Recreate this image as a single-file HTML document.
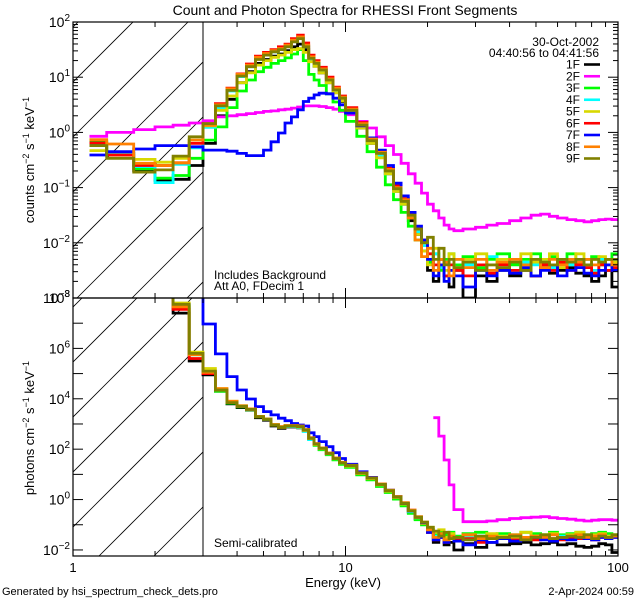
<!DOCTYPE html>
<html><head><meta charset="utf-8"><style>
html,body{margin:0;padding:0;background:#fff;width:640px;height:600px;overflow:hidden;}
svg{display:block;font-family:"Liberation Sans","DejaVu Sans",sans-serif;}
</style></head><body>
<svg id="chart" width="640" height="600" viewBox="0 0 640 600">
<rect width="640" height="600" fill="#fff"/>
<defs>
<clipPath id="clipTop"><rect x="73" y="22" width="545" height="276"/></clipPath>
<clipPath id="clipBot"><rect x="73" y="298" width="545" height="258"/></clipPath>
<clipPath id="hatchTop"><rect x="73" y="22" width="130" height="276"/></clipPath>
<clipPath id="hatchBot"><rect x="73" y="298" width="130" height="258"/></clipPath>
</defs>
<g id="hatch"></g>
<g id="series"></g>
<g id="axes"></g>
<g id="texts">
<text x="345" y="15" font-size="14" text-anchor="middle">Count and Photon Spectra for RHESSI Front Segments</text>
<text x="599" y="46" font-size="12" text-anchor="end">30-Oct-2002</text>
<text x="599" y="57" font-size="12" text-anchor="end">04:40:56 to 04:41:56</text>
<text x="214" y="279" font-size="12">Includes Background</text>
<text x="214" y="290" font-size="12">Att A0, FDecim 1</text>
<text x="214" y="547" font-size="12">Semi-calibrated</text>
<text x="343" y="587" font-size="13" text-anchor="middle">Energy (keV)</text>
<text x="2" y="595" font-size="11">Generated by hsi_spectrum_check_dets.pro</text>
<text x="634" y="595" font-size="11" text-anchor="end">2-Apr-2024 00:59</text>
<text transform="translate(34,160) rotate(-90)" font-size="13" text-anchor="middle">counts cm<tspan dy="-5" font-size="9">−2</tspan><tspan dy="5"> s</tspan><tspan dy="-5" font-size="9">−1</tspan><tspan dy="5"> keV</tspan><tspan dy="-5" font-size="9">−1</tspan></text>
<text transform="translate(34,428) rotate(-90)" font-size="13" text-anchor="middle">photons cm<tspan dy="-5" font-size="9">−2</tspan><tspan dy="5"> s</tspan><tspan dy="-5" font-size="9">−1</tspan><tspan dy="5"> keV</tspan><tspan dy="-5" font-size="9">−1</tspan></text>
</g>
<g id="legend"></g>
</svg>
<script>
const edges=[1.15,1.33,1.67,2,2.33,2.67,3,3.33,3.67,4,4.33,4.67,5,5.33,5.67,6,6.33,6.67,7,7.33,7.67,8,8.5,9,9.5,10,11,12,13,14,15,16,17,18,19,20,21,22,23,24,25,27,30,33,36,40,44,48,52,56,60,65,70,75,80,85,90,95,100];
const detNames=["1F","2F","3F","4F","5F","6F","7F","8F","9F"];
const detColors=["#000000","#ff00ff","#00ff00","#00ffff","#d8d800","#ff0000","#0000ff","#ff8000","#808000"];
const xTickLabels=["1","10","100"];
const topYTickExps=[2,1,0,-1,-2,-3];
const botYTickExps=[8,6,4,2,0,-2];
// log10 counts (top panel)
const cnt1F=[-0.22,-0.38,-0.69,-0.87,-0.85,-0.6,-0.2,0.3,0.6,0.9,1.1,1.25,1.32,1.38,1.42,1.48,1.55,1.6,1.5,1.3,1.2,1.08,0.9,0.72,0.56,0.35,0.08,-0.2,-0.43,-0.75,-1.07,-1.3,-1.6,-1.85,-2.15,-2.5,-2.7,-2.4,-2.6,-2.8,-2.5,-3.0,-2.6,-2.7,-2.5,-2.6,-2.5,-2.6,-2.45,-2.55,-2.5,-2.45,-2.55,-2.6,-2.7,-2.6,-2.5,-2.8];
const cnt2F=[-0.07,0.0,0.05,0.1,0.13,0.17,0.21,0.28,0.3,0.32,0.34,0.36,0.38,0.39,0.41,0.42,0.44,0.46,0.48,0.48,0.48,0.47,0.45,0.42,0.38,0.32,0.2,0.08,-0.08,-0.24,-0.4,-0.56,-0.75,-0.92,-1.1,-1.3,-1.42,-1.55,-1.68,-1.75,-1.78,-1.75,-1.72,-1.68,-1.65,-1.6,-1.55,-1.5,-1.48,-1.52,-1.55,-1.58,-1.6,-1.62,-1.6,-1.58,-1.57,-1.58];
const cnt3F=[-0.16,-0.4,-0.66,-0.83,-0.78,-0.47,-0.14,0.1,0.45,0.75,0.95,1.1,1.18,1.25,1.3,1.35,1.42,1.5,1.3,1.05,0.95,0.85,0.7,0.55,0.4,0.2,-0.07,-0.35,-0.63,-0.95,-1.22,-1.45,-1.7,-1.95,-2.15,-2.35,-2.2,-2.5,-2.3,-2.2,-2.4,-2.25,-2.45,-2.3,-2.2,-2.4,-2.3,-2.2,-2.35,-2.25,-2.3,-2.2,-2.35,-2.3,-2.25,-2.4,-2.3,-2.2];
const cnt4F=[-0.19,-0.38,-0.62,-0.91,-0.58,-0.28,0.09,0.45,0.75,1.01,1.19,1.33,1.4,1.46,1.5,1.56,1.66,1.72,1.55,1.33,1.22,1.1,0.92,0.75,0.6,0.38,0.11,-0.18,-0.43,-0.75,-1.07,-1.3,-1.55,-1.8,-2.05,-2.3,-2.2,-2.45,-2.35,-2.5,-2.3,-2.4,-2.5,-2.25,-2.4,-2.5,-2.35,-2.4,-2.3,-2.45,-2.3,-2.4,-2.35,-2.3,-2.5,-2.3,-2.4,-2.35];
const cnt5F=[-0.33,-0.41,-0.49,-0.54,-0.47,-0.14,0.12,0.4,0.66,0.9,1.08,1.22,1.3,1.36,1.4,1.45,1.5,1.52,1.45,1.28,1.2,1.08,0.9,0.72,0.57,0.35,0.08,-0.2,-0.46,-0.75,-1.07,-1.3,-1.55,-1.85,-2.15,-2.4,-2.1,-2.3,-2.5,-2.2,-2.45,-2.3,-2.2,-2.4,-2.3,-2.5,-2.2,-2.35,-2.3,-2.2,-2.45,-2.3,-2.2,-2.4,-2.3,-2.25,-2.4,-2.35];
const cnt6F=[-0.19,-0.41,-0.6,-0.6,-0.55,-0.2,0.16,0.52,0.8,1.06,1.24,1.38,1.45,1.5,1.55,1.6,1.7,1.76,1.62,1.4,1.3,1.18,1.0,0.82,0.66,0.45,0.18,-0.1,-0.33,-0.65,-0.97,-1.2,-1.47,-1.75,-1.95,-2.2,-2.4,-2.3,-2.6,-2.4,-2.5,-2.6,-2.4,-2.55,-2.4,-2.5,-2.45,-2.6,-2.4,-2.5,-2.35,-2.5,-2.4,-2.45,-2.55,-2.4,-2.5,-2.45];
const cnt7F=[-0.41,-0.35,-0.3,-0.24,-0.24,-0.26,-0.32,-0.32,-0.34,-0.38,-0.42,-0.42,-0.32,-0.17,-0.01,0.17,0.28,0.41,0.56,0.62,0.68,0.71,0.7,0.62,0.5,0.35,0.12,-0.1,-0.32,-0.6,-0.92,-1.15,-1.45,-1.7,-1.95,-2.3,-2.6,-2.4,-2.7,-2.5,-2.6,-2.8,-2.5,-2.6,-2.5,-2.55,-2.45,-2.6,-2.5,-2.4,-2.6,-2.5,-2.45,-2.55,-2.6,-2.5,-2.4,-2.5];
const cnt8F=[-0.13,-0.21,-0.56,-0.6,-0.55,-0.14,0.13,0.5,0.79,1.05,1.22,1.36,1.43,1.48,1.52,1.58,1.67,1.73,1.58,1.37,1.27,1.15,0.97,0.8,0.64,0.42,0.16,-0.12,-0.36,-0.67,-1.0,-1.22,-1.55,-1.95,-2.25,-2.1,-2.5,-2.3,-2.35,-2.6,-2.3,-2.45,-2.3,-2.5,-2.35,-2.3,-2.4,-2.3,-2.45,-2.3,-2.4,-2.3,-2.35,-2.3,-2.4,-2.35,-2.3,-2.4];
const cnt9F=[-0.24,-0.47,-0.72,-0.68,-0.43,-0.08,0.16,0.48,0.76,1.02,1.19,1.32,1.4,1.46,1.5,1.55,1.64,1.7,1.55,1.34,1.25,1.13,0.95,0.77,0.62,0.4,0.13,-0.15,-0.38,-0.7,-1.02,-1.25,-1.5,-1.75,-2.0,-1.9,-2.3,-2.1,-2.4,-2.3,-2.45,-2.35,-2.5,-2.4,-2.45,-2.35,-2.5,-2.3,-2.35,-2.4,-2.3,-2.35,-2.3,-2.4,-2.3,-2.35,-2.3,-2.3];
// log10 photons (bottom panel)
const pho1F=[9,9,9,9,7.4,5.5,4.95,4.3,3.8,3.65,3.55,3.25,3.15,2.92,2.83,2.88,2.88,2.85,2.72,2.4,2.18,2.0,1.8,1.6,1.43,1.3,1.0,0.8,0.55,0.3,0.05,-0.2,-0.5,-0.75,-0.95,-1.3,-1.7,-1.5,-1.8,-1.7,-2.0,-1.75,-1.9,-1.7,-1.8,-1.75,-1.7,-1.8,-1.75,-1.7,-1.8,-1.75,-1.85,-1.9,-1.85,-1.75,-1.8,-2.1];
const pho2F=[null,null,null,null,null,null,null,null,null,null,null,null,null,null,null,null,null,null,null,null,null,null,null,null,null,null,null,null,null,null,null,null,null,null,null,null,3.25,2.52,1.57,0.58,-0.4,-0.88,-0.88,-0.85,-0.8,-0.75,-0.72,-0.7,-0.68,-0.72,-0.75,-0.78,-0.82,-0.85,-0.82,-0.8,-0.8,-0.82];
const pho3F=[9,9,9,9,7.7,5.75,5.05,4.3,3.83,3.68,3.56,3.28,3.18,2.95,2.86,2.9,2.9,2.86,2.72,2.4,2.15,1.98,1.78,1.58,1.4,1.28,0.98,0.78,0.52,0.28,0.02,-0.25,-0.55,-0.8,-1.0,-1.2,-1.35,-1.3,-1.4,-1.3,-1.45,-1.35,-1.3,-1.4,-1.35,-1.4,-1.3,-1.35,-1.4,-1.3,-1.4,-1.35,-1.3,-1.4,-1.35,-1.3,-1.35,-1.4];
const pho4F=[9,9,9,9,7.7,5.75,5.05,4.35,3.85,3.7,3.58,3.3,3.19,2.97,2.88,2.9,2.9,2.86,2.7,2.38,2.18,2.02,1.82,1.62,1.45,1.34,1.04,0.84,0.58,0.34,0.08,-0.18,-0.48,-0.72,-0.92,-1.2,-1.45,-1.4,-1.55,-1.5,-1.6,-1.5,-1.45,-1.55,-1.45,-1.5,-1.5,-1.45,-1.5,-1.55,-1.45,-1.5,-1.5,-1.45,-1.5,-1.5,-1.45,-1.5];
const pho5F=[9,9,9,9,7.8,5.85,5.2,4.4,3.9,3.72,3.6,3.3,3.2,2.98,2.88,2.93,2.92,2.88,2.74,2.42,2.18,2.02,1.82,1.62,1.45,1.33,1.03,0.83,0.58,0.33,0.08,-0.18,-0.45,-0.72,-0.95,-1.1,-1.3,-1.2,-1.5,-1.35,-1.55,-1.4,-1.5,-1.35,-1.45,-1.5,-1.3,-1.45,-1.4,-1.35,-1.5,-1.4,-1.3,-1.45,-1.4,-1.35,-1.45,-1.4];
const pho6F=[9,9,9,9,7.55,5.6,5.0,4.35,3.85,3.7,3.58,3.29,3.19,2.96,2.87,2.92,2.92,2.9,2.76,2.45,2.22,2.05,1.84,1.64,1.47,1.36,1.06,0.86,0.6,0.36,0.1,-0.15,-0.42,-0.7,-0.92,-1.3,-1.6,-1.45,-1.7,-1.5,-1.6,-1.55,-1.7,-1.5,-1.55,-1.6,-1.5,-1.6,-1.45,-1.55,-1.6,-1.5,-1.55,-1.45,-1.6,-1.5,-1.55,-1.5];
const pho7F=[9,9,9,9,9,8.5,6.97,5.78,4.88,4.35,3.99,3.69,3.49,3.36,3.23,3.13,3.02,2.96,2.92,2.65,2.5,2.3,2.1,1.86,1.63,1.4,1.1,0.88,0.62,0.37,0.12,-0.15,-0.45,-0.7,-0.92,-1.3,-1.6,-1.5,-1.7,-1.55,-1.65,-1.8,-1.6,-1.7,-1.55,-1.65,-1.6,-1.5,-1.6,-1.65,-1.55,-1.6,-1.5,-1.55,-1.6,-1.5,-1.55,-1.5];
const pho8F=[9,9,9,9,7.65,5.75,5.05,4.4,3.9,3.72,3.6,3.3,3.2,2.98,2.9,2.94,2.94,2.92,2.78,2.45,2.22,2.05,1.85,1.65,1.48,1.36,1.06,0.86,0.62,0.37,0.12,-0.12,-0.42,-0.68,-0.9,-1.2,-1.5,-1.35,-1.6,-1.45,-1.5,-1.4,-1.55,-1.45,-1.5,-1.4,-1.5,-1.45,-1.5,-1.4,-1.5,-1.45,-1.4,-1.5,-1.45,-1.4,-1.5,-1.45];
const pho9F=[9,9,9,9,7.75,5.8,5.1,4.35,3.85,3.7,3.58,3.29,3.19,2.96,2.87,2.92,2.92,2.9,2.76,2.43,2.2,2.03,1.83,1.63,1.46,1.35,1.05,0.85,0.6,0.35,0.1,-0.15,-0.45,-0.7,-0.9,-1.1,-1.25,-1.45,-1.3,-1.55,-1.5,-1.6,-1.45,-1.55,-1.5,-1.45,-1.6,-1.5,-1.4,-1.55,-1.5,-1.45,-1.5,-1.4,-1.55,-1.45,-1.5,-1.4];

const countSeries=[cnt1F,cnt2F,cnt3F,cnt4F,cnt5F,cnt6F,cnt7F,cnt8F,cnt9F];
const photonSeries=[pho1F,pho2F,pho3F,pho4F,pho5F,pho6F,pho7F,pho8F,pho9F];

const NS="http://www.w3.org/2000/svg";
const X0=73,X1=618,XD=272.5;
function xScale(e){return X0+XD*Math.log10(e);}
const TOP={y0:22,y1:298,lmin:-3,lmax:2};
const BOT={y0:298,y1:556,lmin:-2.24,lmax:8};
function yScale(p,l){return p.y1-(l-p.lmin)/(p.lmax-p.lmin)*(p.y1-p.y0);}
function mk(tag,attrs,parent){const e=document.createElementNS(NS,tag);for(const k in attrs)e.setAttribute(k,attrs[k]);parent.appendChild(e);return e;}

// hatching
const hatch=document.getElementById('hatch');
[[TOP,'hatchTop',45],[BOT,'hatchBot',50]].forEach(([p,clip,off])=>{
  const g=mk('g',{'clip-path':'url(#'+clip+')'},hatch);
  
  
  for(let c=off-110;c<900;c+=55){
    const l=mk('line',{x1:0,y1:c,x2:c,y2:0,stroke:'#000','stroke-width':0.8},g);
    
    
  }
  const v=mk('line',{x1:203,y1:p.y0,x2:203,y2:p.y1,stroke:'#000','stroke-width':1},hatch);
  
  
});

// series
const sg=document.getElementById('series');
function drawSeries(p,arr,clip,color,name){
  let d='',pen=false;
  for(let i=0;i<arr.length;i++){
    const v=arr[i];
    if(v===null){pen=false;continue;}
    const xa=xScale(edges[i]).toFixed(1),xb=xScale(edges[i+1]).toFixed(1),y=yScale(p,v).toFixed(1);
    d+=(pen?'L':'M')+xa+' '+y+'L'+xb+' '+y;
    pen=true;
  }
  const path=mk('path',{d:d,fill:'none',stroke:color,'stroke-width':2.8,'stroke-linejoin':'miter','clip-path':'url(#'+clip+')'},sg);
  
  
}
for(let s=0;s<9;s++){
  drawSeries(TOP,countSeries[s],'clipTop',detColors[s],'count-series-'+detNames[s].toLowerCase());
  drawSeries(BOT,photonSeries[s],'clipBot',detColors[s],'photon-series-'+detNames[s].toLowerCase());
}

// axes
const ax=document.getElementById('axes');
function ln(x1,y1,x2,y2,name){const l=mk('line',{x1:x1,y1:y1,x2:x2,y2:y2,stroke:'#000','stroke-width':1},ax);return l;}
[TOP,BOT].forEach((p,pi)=>{
  const r=mk('rect',{x:X0,y:p.y0,width:X1-X0,height:p.y1-p.y0,fill:'none',stroke:'#000','stroke-width':1.2},ax);
  
  
  for(let dec=1;dec<=100;dec*=10){
    for(let m=1;m<10;m++){
      const e=dec*m; if(e>100)break;
      const x=xScale(e); const len=(m===1)?10:5;
      ln(x,p.y0,x,p.y0+len,'x-tick');
      ln(x,p.y1,x,p.y1-len,'x-tick');
    }
  }
  const a=Math.ceil(p.lmin),b=Math.floor(p.lmax);
  for(let L=a;L<=b;L++){
    const y=yScale(p,L);
    ln(X0,y,X0+10,y,'y-tick');ln(X1,y,X1-10,y,'y-tick');
    if(pi===0){
      for(let m=2;m<10;m++){const yy=yScale(p,L+Math.log10(m));if(yy<p.y0)break;ln(X0,yy,X0+5,yy,'y-minor-tick');ln(X1,yy,X1-5,yy,'y-minor-tick');}
    }
  }
});
function yLabel(p,exp,name){
  const y=yScale(p,exp);
  const t=mk('text',{x:70,y:y+5,'font-size':14,'text-anchor':'end'},ax);
  
  
  t.appendChild(document.createTextNode('10'));
  const ts=mk('tspan',{dy:-6,'font-size':10},t);
  ts.textContent=String(exp).replace('-','−');
}
topYTickExps.forEach(e=>yLabel(TOP,e,'top-y-tick-label'));
botYTickExps.forEach(e=>yLabel(BOT,e,'bottom-y-tick-label'));
xTickLabels.forEach(lb=>{
  const t=mk('text',{x:xScale(parseFloat(lb)),y:572,'font-size':13,'text-anchor':'middle'},ax);
  
  
  t.textContent=lb;
});

// legend
const lg=document.getElementById('legend');
detNames.forEach((n,i)=>{
  const y=64.5+i*11.75;
  const t=mk('text',{x:580,y:y+4,'font-size':12,'text-anchor':'end'},lg);
  
  
  t.textContent=n;
  const l=mk('line',{x1:584,y1:y,x2:600,y2:y,stroke:detColors[i],'stroke-width':2.6},lg);
  
  
});
</script>
</body></html>
